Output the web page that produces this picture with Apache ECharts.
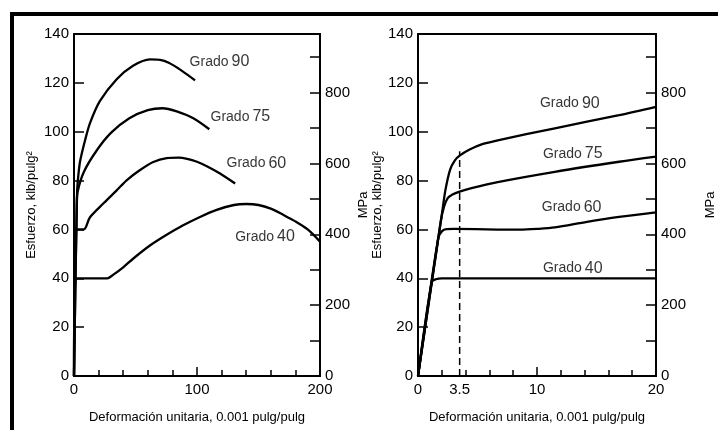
<!DOCTYPE html>
<html>
<head>
    <meta charset="UTF-8">
    <title>Esfuerzo vs deformación - Grados de acero</title>
    <script src="https://cdn.jsdelivr.net/npm/echarts@6/dist/echarts.min.js"></script>
    <style>
        html, body {margin: 0; padding: 0; background: #fff;}
        #chart {width: 718px; height: 430px;}
    </style>
</head>
<body>
    <div id="chart"></div>

    <script>
        // curvas completas (izquierda), x en 0.001 pulg/pulg, y en klb/pulg2
        const grado90Full = [[0,0],[2.5,75],[3.5,82],[5,88],[9,96.5],[13,103.5],[21,112.5],[34.7,121.5],[48,127],[61.8,129.6],[70,129.4],[77,128.2],[87.5,125],[98.4,121]];
        const grado75Full = [[0,0],[2.2,70],[3,75.5],[8,83.5],[18,92],[30,99.5],[45,105.5],[60,108.8],[72,109.6],[83.5,108.3],[97,105.5],[110,101]];
        const grado60Full = [[0,0],[2,60],[8,60],[13,65],[24,70.7],[34.7,76],[43,80.2],[53.7,84.3],[64,87.5],[75.4,89.2],[85,89.4],[92,88.9],[100,87.7],[108,85.9],[118.7,82.9],[131,78.8]];
        const grado40Full = [[0,0],[1.4,40],[27,40],[32,41.5],[40,44.5],[48,48],[62,53.5],[75,57.7],[88,61.5],[102,65],[116,68],[130,70],[140,70.4],[150,70],[160,68.5],[170,66],[180,63.3],[190,60],[200,55]];

        // zona inicial (derecha)
        const grado90Zoom = [[0,0],[2.0,66],[2.3,76],[2.7,84.5],[3.1,88.3],[3.5,90.2],[4.3,92.6],[5.4,94.9],[6.7,96.5],[11.5,101.4],[16.9,106.8],[20,110.2]];
        const grado75Zoom = [[0,0],[1.9,63],[2.2,69.5],[2.5,72.8],[2.9,74.3],[3.5,75.5],[4.5,76.9],[6.7,79.4],[11.5,83.6],[16.9,87.7],[20,89.8]];
        const grado60Zoom = [[0,0],[1.7,56.5],[2.0,59.2],[2.4,60.1],[3,60.2],[8.5,59.9],[10,60.2],[11.5,60.8],[14.2,63.1],[16.9,65.1],[20,67]];
        const grado40Zoom = [[0,0],[1.15,38.5],[1.5,39.6],[2,40],[20,40]];
        const dashed35 = [[3.5,0],[3.5,92]];

        // etiquetas de curvas: grado, x, y
        const labelsFull = [['90',94,128.5],['75',111,106],['60',124,87],['40',131,57]];
        const labelsZoom = [['90',10.25,111.6],['75',10.5,91],['60',10.4,69],['40',10.5,44]];

        const xLabelsZoom = [0, 3.5, 10, 20];
        const mpaLabels = [0, 200, 400, 600, 800];
        const mpaTicks = [100, 200, 300, 400, 500, 600, 700, 800, 900];
        const KSI_TO_MPA = 6.895;

        const FONT = '"Liberation Sans", Arial, sans-serif';
        const chart = echarts.init(document.getElementById('chart'));

        const curve = (data, xi, yi) => ({
            type: 'line', data: data, xAxisIndex: xi, yAxisIndex: yi,
            showSymbol: false, smooth: 0.3,
            lineStyle: { color: '#000', width: 2.3 }, silent: true, z: 5
        });

        const tags = (list, xi, yi) => ({
            type: 'scatter', xAxisIndex: xi, yAxisIndex: yi, symbolSize: 0, silent: true, z: 6,
            data: list.map(d => ({ value: [d[1], d[2]], name: d[0] })),
            label: {
                show: true, position: 'right', distance: 0,
                formatter: p => '{a|Grado}{b|' + p.name + '}',
                rich: {
                    a: { fontSize: 14, color: '#000', fontFamily: FONT },
                    b: { fontSize: 16, color: '#000', fontFamily: FONT, padding: [0, 0, 0, 3] }
                }
            }
        });

        const yLeft = (gi) => ({
            type: 'value', gridIndex: gi, min: 0, max: 140, interval: 20, position: 'left',
            name: 'Esfuerzo, klb/pulg²', nameLocation: 'middle', nameRotate: 90,
            nameGap: gi === 0 ? 36 : 30,
            nameTextStyle: { fontSize: 13, color: '#000', fontFamily: FONT },
            axisLine: { show: true, lineStyle: { color: '#000', width: 2 } },
            axisTick: { show: true, inside: true, length: 10, lineStyle: { color: '#000', width: 1.5 } },
            axisLabel: { fontSize: 15, color: '#000', fontFamily: FONT, margin: 5 },
            splitLine: { show: false }
        });

        const yRight = (gi) => ({
            type: 'value', gridIndex: gi, min: 0, max: 140 * KSI_TO_MPA, position: 'right',
            name: 'MPa', nameLocation: 'middle', nameRotate: 90,
            nameGap: gi === 0 ? 37 : 48,
            nameTextStyle: { fontSize: 13, color: '#000', fontFamily: FONT },
            axisLine: { show: true, lineStyle: { color: '#000', width: 2 } },
            axisTick: { show: true, inside: true, length: 10, customValues: mpaTicks, lineStyle: { color: '#000', width: 1.5 } },
            axisLabel: { fontSize: 15, color: '#000', fontFamily: FONT, margin: 5, customValues: mpaLabels },
            splitLine: { show: false }
        });

        const xAxisBase = {
            type: 'value', min: 0, nameLocation: 'middle', nameGap: 35,
            name: 'Deformación unitaria, 0.001 pulg/pulg',
            nameTextStyle: { fontSize: 13, color: '#000', fontFamily: FONT },
            axisLine: { show: true, lineStyle: { color: '#000', width: 2 } },
            axisTick: { show: true, inside: true, length: 9, lineStyle: { color: '#000', width: 1.5 } },
            minorTick: { show: true, splitNumber: 5, length: 6, lineStyle: { color: '#000', width: 1.5 } },
            splitLine: { show: false }
        };

        chart.setOption({
            animation: false,
            backgroundColor: '#fff',
            grid: [
                { left: 74, right: 398, top: 34, bottom: 54, show: true, borderColor: '#000', borderWidth: 2 },
                { left: 418, right: 56, top: 34, bottom: 54, show: true, borderColor: '#000', borderWidth: 2 }
            ],
            xAxis: [
                Object.assign({}, xAxisBase, {
                    gridIndex: 0, max: 200, interval: 100,
                    axisLabel: { fontSize: 15, color: '#000', fontFamily: FONT, margin: 6 }
                }),
                Object.assign({}, xAxisBase, {
                    gridIndex: 1, max: 20, interval: 10,
                    axisLabel: { fontSize: 15, color: '#000', fontFamily: FONT, margin: 6, customValues: xLabelsZoom }
                })
            ],
            yAxis: [yLeft(0), yRight(0), yLeft(1), yRight(1)],
            series: [
                curve(grado90Full, 0, 0),
                curve(grado75Full, 0, 0),
                curve(grado60Full, 0, 0),
                curve(grado40Full, 0, 0),
                tags(labelsFull, 0, 0),
                curve(grado90Zoom, 1, 2),
                curve(grado75Zoom, 1, 2),
                curve(grado60Zoom, 1, 2),
                curve(grado40Zoom, 1, 2),
                {
                    type: 'line', data: dashed35, xAxisIndex: 1, yAxisIndex: 2, showSymbol: false, silent: true,
                    lineStyle: { color: '#000', width: 1.5, type: [7, 4] }, z: 4
                },
                tags(labelsZoom, 1, 2)
            ],
            graphic: [
                { type: 'line', shape: { x1: 10, y1: 14, x2: 718, y2: 14 }, style: { stroke: '#000', lineWidth: 4 } },
                { type: 'line', shape: { x1: 12, y1: 12, x2: 12, y2: 430 }, style: { stroke: '#000', lineWidth: 4 } }
            ]
        });
    </script>
</body>
</html>
